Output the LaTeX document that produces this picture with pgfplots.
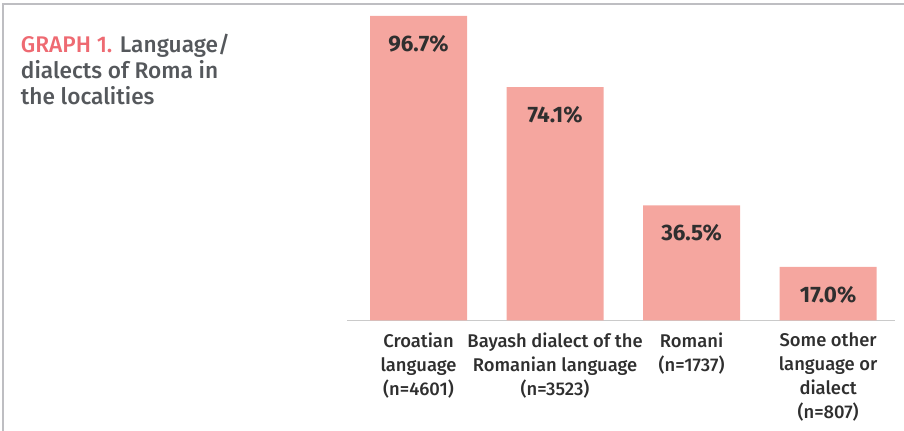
\documentclass[border=0pt]{standalone}
\usepackage{fontspec}
\setmainfont{Fira Sans}
\newfontfamily\firamed{Fira Sans}[UprightFont={* Medium}]
\usepackage{pgfplots}
\pgfplotsset{compat=1.18}

\definecolor{barfill}{HTML}{F5A69F}
\definecolor{graphred}{HTML}{EE6A72}
\definecolor{titlegray}{HTML}{55585C}
\definecolor{labeldark}{HTML}{2F2F2F}
\definecolor{framegray}{HTML}{BEBEC2}
\definecolor{axisgray}{HTML}{CACACA}

\begin{document}
\begin{tikzpicture}
% picture is 904 x 431 px, 1 px = 0.75 pt
\path[use as bounding box] (0,0) rectangle (678pt,323.25pt);
\draw[framegray, line width=1.3pt] (2.5pt,0) -- (2.5pt,320.1pt) -- (678pt,320.1pt);

% title block, one node per line
\begin{scope}[every node/.style={anchor=base west, inner sep=0pt, text=titlegray,
    font=\firamed\fontsize{17}{20}\selectfont}]
\node at (15.5pt,283.5pt) {{\mdseries\color{graphred}GRAPH 1.} Language/};
\node at (15.5pt,264pt) {dialects of Roma in};
\node at (15.5pt,244.5pt) {the localities};
\end{scope}

\begin{axis}[
    at={(260.25pt,82.9pt)}, anchor=south west,
    scale only axis,
    width=411pt, height=236.25pt,
    xmin=-0.524, xmax=3.49,
    ymin=0, ymax=100,
    clip=false,
    hide y axis,
    axis x line*=bottom,
    x axis line style={-, draw=axisgray, line width=1pt},
    major tick length=0pt,
    xtick={0,1,2,3},
    xticklabels={{Croatian\\language\\(n=4601)},
                 {Bayash dialect of the\\Romanian language\\(n=3523)},
                 {Romani\\(n=1737)},
                 {Some other\\language or\\dialect\\(n=807)}},
    xticklabel style={align=center, anchor=north, inner sep=0pt, yshift=-9pt,
        text=labeldark, font=\firamed\fontsize{13.8}{17.9}\selectfont},
    ybar, bar width=72.75pt,
    nodes near coords={\pgfmathprintnumber[fixed,fixed zerofill,precision=1]{\pgfplotspointmeta}\%},
    nodes near coords style={anchor=base, yshift=-26.5pt, inner sep=0pt,
        text=labeldark, font=\bfseries\fontsize{16.8}{19}\selectfont},
    /pgf/number format/assume math mode=true,
]
\addplot[fill=barfill, draw=none] coordinates {(0,96.7) (1,74.1) (2,36.5) (3,17.0)};
\end{axis}
\end{tikzpicture}
\end{document}
